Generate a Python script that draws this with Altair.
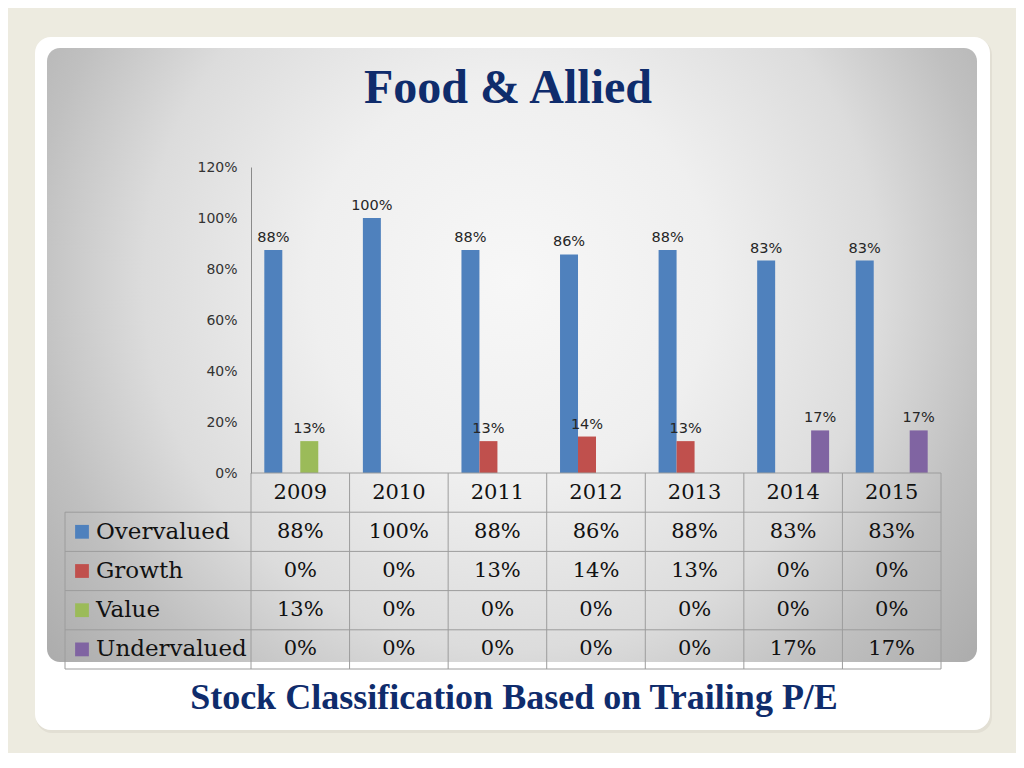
import altair as alt
import pandas as pd

# ---------------- data ----------------
years = ["2009", "2010", "2011", "2012", "2013", "2014", "2015"]
series = ["Overvalued", "Growth", "Value", "Undervalued"]
colors = ["#4F81BD", "#C0504D", "#9BBB59", "#8064A2"]

overvalued = [87.5, 100.0, 87.5, 85.7, 87.5, 83.3, 83.3]
growth = [0.0, 0.0, 12.5, 14.3, 12.5, 0.0, 0.0]
value_ = [12.5, 0.0, 0.0, 0.0, 0.0, 0.0, 0.0]
undervalued = [0.0, 0.0, 0.0, 0.0, 0.0, 16.7, 16.7]

overvalued_lbl = ["88%", "100%", "88%", "86%", "88%", "83%", "83%"]
growth_lbl = ["0%", "0%", "13%", "14%", "13%", "0%", "0%"]
value_lbl = ["13%", "0%", "0%", "0%", "0%", "0%", "0%"]
undervalued_lbl = ["0%", "0%", "0%", "0%", "0%", "17%", "17%"]

y_ticks = [0, 0.2, 0.4, 0.6, 0.8, 1.0, 1.2]

title_text = "Food & Allied"
subtitle_text = "Stock Classification Based on Trailing P/E"

# ---------------- tables ----------------
vals = [overvalued, growth, value_, undervalued]
lbls = [overvalued_lbl, growth_lbl, value_lbl, undervalued_lbl]
rows = []
for s, v, l in zip(series, vals, lbls):
    for y, vv, ll in zip(years, v, l):
        rows.append({"year": y, "series": s, "pct": vv / 100.0, "label": ll, "row": s})
df = pd.DataFrame(rows)

table_rows = ["header"] + series
df_header = pd.DataFrame({"year": years, "row": ["header"] * len(years)})
df_series = pd.DataFrame({"row": series, "series": series})
df_years = pd.DataFrame({"year": years})
one = pd.DataFrame({"a": [0]})

W, H = 690, 306
NAVY = "#0F2C6C"
GRID = "#9C9C9C"

xscale = alt.Scale(domain=years, paddingInner=0, paddingOuter=0)
x_enc = alt.X("year:N", scale=xscale, axis=None)
xoff = alt.XOffset("series:N", scale=alt.Scale(domain=series, paddingInner=0, paddingOuter=0.74))
yscale = alt.Scale(domain=[0, 1.2], nice=False)
color_enc = alt.Color("series:N", scale=alt.Scale(domain=series, range=colors), legend=None)
row_scale = alt.Scale(type="band", domain=table_rows, range=[306, 502], paddingInner=0, paddingOuter=0)

# ---------------- decoration ----------------
shadow = alt.Chart(one).mark_rect(cornerRadius=16, fill="#E2DFD4").encode(
    x=alt.value(-215), x2=alt.value(741), y=alt.value(-128), y2=alt.value(566))
card = alt.Chart(one).mark_rect(cornerRadius=16, fill="#FFFFFF").encode(
    x=alt.value(-216), x2=alt.value(739), y=alt.value(-130), y2=alt.value(563))
panel = alt.Chart(one).mark_rect(
    cornerRadius=13,
    fill={
        "gradient": "radial",
        "x1": 0.5, "y1": 0.42, "r1": 0,
        "x2": 0.5, "y2": 0.42, "r2": 0.72,
        "stops": [
            {"offset": 0, "color": "#F7F7F7"},
            {"offset": 0.3, "color": "#EFEFEF"},
            {"offset": 0.55, "color": "#DCDCDC"},
            {"offset": 0.72, "color": "#C0C0C0"},
            {"offset": 1, "color": "#A0A0A0"},
        ],
    },
).encode(x=alt.value(-204), x2=alt.value(726), y=alt.value(-119), y2=alt.value(495))

title = alt.Chart(pd.DataFrame({"t": [title_text]})).mark_text(
    font="Liberation Serif", fontWeight="bold", fontSize=48, color=NAVY,
    align="center", baseline="alphabetic"
).encode(x=alt.value(257), y=alt.value(-64), text="t:N")

subtitle = alt.Chart(pd.DataFrame({"t": [subtitle_text]})).mark_text(
    font="Liberation Serif", fontWeight="bold", fontSize=36, color=NAVY,
    align="center", baseline="alphabetic"
).encode(x=alt.value(263), y=alt.value(542), text="t:N")

# ---------------- bars ----------------
bars = alt.Chart(df).mark_bar().encode(
    x=x_enc,
    xOffset=xoff,
    y=alt.Y("pct:Q", scale=yscale,
            axis=alt.Axis(values=y_ticks, format=".0%", title=None, ticks=False, grid=False,
                          labelPadding=14, labelFont="DejaVu Sans", labelFontSize=14,
                          labelColor="#333333", domainColor="#8A8A8A", domainWidth=1,
                          zindex=1)),
    color=color_enc,
)

bar_labels = alt.Chart(df).transform_filter("datum.pct > 0").mark_text(
    font="DejaVu Sans", fontSize=14.5, color="#262626", baseline="alphabetic", dy=-8
).encode(
    x=x_enc,
    xOffset=xoff,
    y=alt.Y("pct:Q", scale=yscale, axis=None),
    text="label:N",
)

# ---------------- data table ----------------
vlines = alt.Chart(df_years).mark_rule(color=GRID, strokeWidth=1).encode(
    x=alt.X("year:N", scale=xscale, axis=None, bandPosition=0),
    y=alt.value(306), y2=alt.value(502))
vline_right = alt.Chart(one).mark_rule(color=GRID, strokeWidth=1).encode(
    x=alt.value(W), y=alt.value(306), y2=alt.value(502))
vline_left = alt.Chart(one).mark_rule(color=GRID, strokeWidth=1).encode(
    x=alt.value(-186), y=alt.value(345), y2=alt.value(502))

hlines = alt.Chart(df_series).mark_rule(color=GRID, strokeWidth=1).encode(
    y=alt.Y("row:N", scale=row_scale, axis=None, bandPosition=0),
    x=alt.value(-186), x2=alt.value(W))
hline_top = alt.Chart(pd.DataFrame({"row": ["header"]})).mark_rule(color=GRID, strokeWidth=1).encode(
    y=alt.Y("row:N", scale=row_scale, axis=None, bandPosition=0),
    x=alt.value(0), x2=alt.value(W))
hline_bottom = alt.Chart(one).mark_rule(color=GRID, strokeWidth=1).encode(
    y=alt.value(502), x=alt.value(-186), x2=alt.value(W))

header_text = alt.Chart(df_header).mark_text(
    font="DejaVu Serif", fontSize=21, color="#111111", baseline="middle"
).encode(
    x=alt.X("year:N", scale=xscale, axis=None, bandPosition=0.5),
    y=alt.Y("row:N", scale=row_scale, axis=None, bandPosition=0.5),
    text="year:N",
)

cell_text = alt.Chart(df).mark_text(
    font="DejaVu Serif", fontSize=21, color="#111111", baseline="middle"
).encode(
    x=alt.X("year:N", scale=xscale, axis=None, bandPosition=0.5),
    y=alt.Y("row:N", scale=row_scale, axis=None, bandPosition=0.5),
    text="label:N",
)

legend_sq = alt.Chart(df_series).mark_point(shape="square", filled=True, size=190, opacity=1).encode(
    x=alt.value(-169),
    y=alt.Y("row:N", scale=row_scale, axis=None, bandPosition=0.5),
    color=color_enc,
)
legend_txt = alt.Chart(df_series).mark_text(
    font="DejaVu Serif", fontSize=23, color="#111111", align="left", baseline="middle"
).encode(
    x=alt.value(-155),
    y=alt.Y("row:N", scale=row_scale, axis=None, bandPosition=0.5),
    text="row:N",
)

chart = alt.layer(
    shadow, card, panel, title, subtitle,
    bars, bar_labels,
    vlines, vline_right, vline_left, hlines, hline_top, hline_bottom,
    header_text, cell_text, legend_sq, legend_txt,
).resolve_scale(y="independent").properties(
    width=W, height=H,
    padding={"left": 243, "top": 159, "right": 75, "bottom": 280},
    autosize=alt.AutoSizeParams(type="none"),
).configure(background="#EDEBE0").configure_view(stroke=None)

chart.save("out.html", embed_options={"renderer": "svg", "actions": False})
